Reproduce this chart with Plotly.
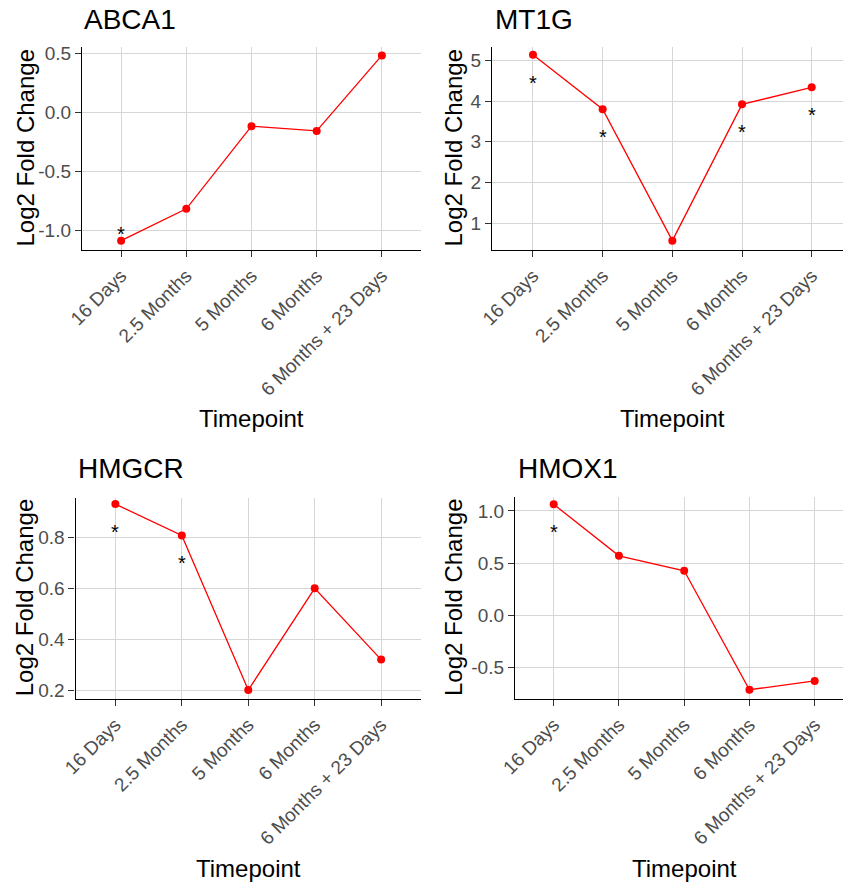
import plotly.graph_objects as go

# ---------------- data ----------------
timepoints = ["16 Days", "2.5 Months", "5 Months", "6 Months", "6 Months + 23 Days"]
genes = ["ABCA1", "MT1G", "HMGCR", "HMOX1"]

abca1 = [-1.09, -0.82, -0.12, -0.16, 0.48]
mt1g = [5.14, 3.80, 0.57, 3.92, 4.34]
hmgcr = [0.931, 0.808, 0.20, 0.60, 0.32]
hmox1 = [1.064, 0.57, 0.426, -0.715, -0.631]

abca1_sig = [1, 0, 0, 0, 0]
mt1g_sig = [1, 1, 0, 1, 1]
hmgcr_sig = [1, 1, 0, 0, 0]
hmox1_sig = [1, 0, 0, 0, 0]

abca1_ticks = [-1.0, -0.5, 0.0, 0.5]
abca1_ticklabels = ["-1.0", "-0.5", "0.0", "0.5"]
mt1g_ticks = [1, 2, 3, 4, 5]
mt1g_ticklabels = ["1", "2", "3", "4", "5"]
hmgcr_ticks = [0.2, 0.4, 0.6, 0.8]
hmgcr_ticklabels = ["0.2", "0.4", "0.6", "0.8"]
hmox1_ticks = [-0.5, 0.0, 0.5, 1.0]
hmox1_ticklabels = ["-0.5", "0.0", "0.5", "1.0"]

values = [abca1, mt1g, hmgcr, hmox1]
sigs = [abca1_sig, mt1g_sig, hmgcr_sig, hmox1_sig]
ticks = [abca1_ticks, mt1g_ticks, hmgcr_ticks, hmox1_ticks]
ticklabels = [abca1_ticklabels, mt1g_ticklabels, hmgcr_ticklabels, hmox1_ticklabels]

# ---------------- layout geometry (pixels) ----------------
W, H = 843, 886
FONT = "Liberation Sans, Arial, sans-serif"
# plot area: (left, right, top, bottom) in px
areas = [(82, 421, 47, 250), (492, 843, 47, 250), (75.5, 421, 497.5, 699), (515, 843, 497, 699)]
xranges = [[-0.6, 4.6], [-0.588, 4.449], [-0.6, 4.6], [-0.593, 4.434]]
yranges = [[-1.169, 0.551], [0.34, 5.33], [0.165, 0.957], [-0.804, 1.134]]
title_x = [82, 492.5, 75.5, 516]
title_y = [19, 19, 468, 468]
ylab_x = [25, 453, 24, 453]
xlab_x = [251.5, 672.5, 248, 684]
xlab_y = [418, 418, 868, 868]

fig = go.Figure()
annotations = []
layout = dict(
    template="none",
    width=W, height=H, margin=dict(l=0, r=0, t=0, b=0, pad=0), autosize=False,
    paper_bgcolor="white", plot_bgcolor="white", showlegend=False,
    font=dict(family=FONT),
)

for i in range(4):
    n = "" if i == 0 else str(i + 1)
    L, R, T, B = areas[i]
    fig.add_trace(go.Scatter(
        x=timepoints, y=values[i], mode="lines+markers",
        line=dict(color="#FF0000", width=1.3),
        marker=dict(color="#FF0000", size=8, line=dict(width=0)),
        xaxis="x" + n, yaxis="y" + n, hoverinfo="x+y",
    ))
    layout["xaxis" + n] = dict(
        domain=[L / W, R / W], anchor="y" + n, type="category", automargin=False,
        categoryorder="array", categoryarray=timepoints,
        range=xranges[i], showgrid=True, gridcolor="#D6D6D6", gridwidth=1.4,
        showline=True, linecolor="black", linewidth=1.3, mirror=False,
        ticks="outside", ticklen=6, tickcolor="#333333", tickwidth=1.2,
        tickangle=-45, tickfont=dict(size=19, color="#4D4D4D", family=FONT),
        zeroline=False, fixedrange=True,
    )
    layout["yaxis" + n] = dict(
        domain=[1 - B / H, 1 - T / H], anchor="x" + n, automargin=False,
        range=yranges[i], tickvals=ticks[i], ticktext=ticklabels[i],
        showgrid=True, gridcolor="#D6D6D6", gridwidth=1.4,
        showline=True, linecolor="black", linewidth=1.3, mirror=False,
        ticks="outside", ticklen=6, tickcolor="#333333", tickwidth=1.2,
        tickfont=dict(size=19, color="#4D4D4D", family=FONT),
        zeroline=False, fixedrange=True,
    )
    # panel title
    annotations.append(dict(
        text=genes[i], xref="paper", yref="paper", x=title_x[i] / W, y=1 - title_y[i] / H,
        xanchor="left", yanchor="middle", showarrow=False,
        font=dict(size=28, color="black", family=FONT),
    ))
    # y axis title
    annotations.append(dict(
        text="Log2 Fold Change", xref="paper", yref="paper", x=ylab_x[i] / W,
        y=1 - (T + B) / 2 / H, xanchor="center", yanchor="middle", textangle=-90,
        showarrow=False, font=dict(size=24, color="black", family=FONT),
    ))
    # x axis title
    annotations.append(dict(
        text="Timepoint", xref="paper", yref="paper", x=xlab_x[i] / W,
        y=1 - xlab_y[i] / H, xanchor="center", yanchor="middle",
        showarrow=False, font=dict(size=24, color="black", family=FONT),
    ))
    # significance stars
    for tp, v, s in zip(timepoints, values[i], sigs[i]):
        if s:
            annotations.append(dict(
                text="*", xref="x" + n, yref="y" + n, x=tp, y=v,
                xanchor="center", yanchor="middle", showarrow=False,
                yshift=(-28 if v > 0 else 7),
                font=dict(size=20, color="black", family=FONT),
            ))

layout["annotations"] = annotations
fig.update_layout(**layout)
fig.write_html(
    "out.html",
    post_script="document.body.style.margin='0';document.body.style.padding='0';",
)
